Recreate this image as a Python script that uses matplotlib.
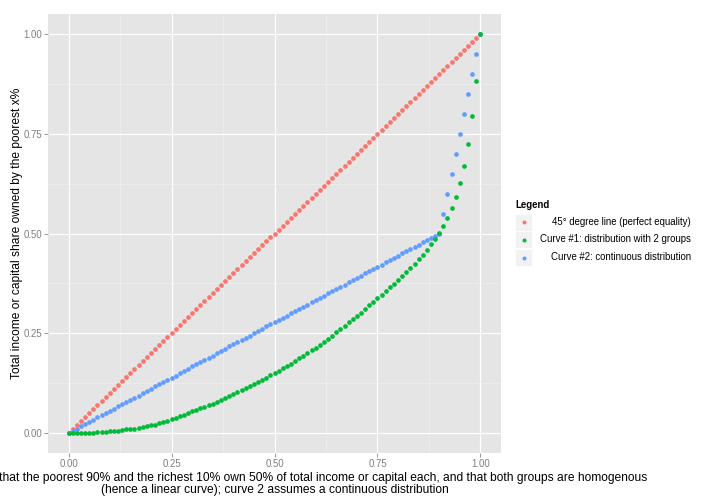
import matplotlib
matplotlib.use("Agg")
import matplotlib.pyplot as plt
from matplotlib.patches import Rectangle
from matplotlib.ticker import MultipleLocator, FormatStrFormatter

plt.rcParams['font.family'] = ['Liberation Sans', 'DejaVu Sans']

# poorest x% of the population
pop_share = [0.00, 0.01, 0.02, 0.03, 0.04, 0.05, 0.06, 0.07, 0.08, 0.09,
             0.10, 0.11, 0.12, 0.13, 0.14, 0.15, 0.16, 0.17, 0.18, 0.19,
             0.20, 0.21, 0.22, 0.23, 0.24, 0.25, 0.26, 0.27, 0.28, 0.29,
             0.30, 0.31, 0.32, 0.33, 0.34, 0.35, 0.36, 0.37, 0.38, 0.39,
             0.40, 0.41, 0.42, 0.43, 0.44, 0.45, 0.46, 0.47, 0.48, 0.49,
             0.50, 0.51, 0.52, 0.53, 0.54, 0.55, 0.56, 0.57, 0.58, 0.59,
             0.60, 0.61, 0.62, 0.63, 0.64, 0.65, 0.66, 0.67, 0.68, 0.69,
             0.70, 0.71, 0.72, 0.73, 0.74, 0.75, 0.76, 0.77, 0.78, 0.79,
             0.80, 0.81, 0.82, 0.83, 0.84, 0.85, 0.86, 0.87, 0.88, 0.89,
             0.90, 0.91, 0.92, 0.93, 0.94, 0.95, 0.96, 0.97, 0.98, 0.99,
             1.00]

# 45 degree line: share owned == share of population
line45 = list(pop_share)

# curve #1 (green)
curve1 = [0.000, 0.000, 0.000, 0.000, 0.001, 0.001, 0.001, 0.002, 0.002, 0.003,
          0.004, 0.005, 0.006, 0.008, 0.009, 0.010, 0.011, 0.013, 0.015, 0.017,
          0.019, 0.021, 0.024, 0.027, 0.030, 0.034, 0.038, 0.042, 0.046, 0.050,
          0.054, 0.058, 0.062, 0.066, 0.070, 0.074, 0.079, 0.083, 0.088, 0.093,
          0.098, 0.103, 0.108, 0.113, 0.118, 0.123, 0.128, 0.134, 0.139, 0.145,
          0.150, 0.156, 0.162, 0.168, 0.174, 0.180, 0.187, 0.193, 0.200, 0.207,
          0.214, 0.221, 0.229, 0.236, 0.244, 0.252, 0.260, 0.268, 0.277, 0.285,
          0.294, 0.302, 0.311, 0.320, 0.329, 0.338, 0.347, 0.356, 0.365, 0.374,
          0.383, 0.393, 0.404, 0.414, 0.424, 0.436, 0.447, 0.459, 0.473, 0.486,
          0.502, 0.520, 0.540, 0.565, 0.591, 0.627, 0.670, 0.724, 0.794, 0.883,
          1.000]

# curve #2 (blue)
curve2 = [0.000, 0.006, 0.011, 0.017, 0.022, 0.028, 0.033, 0.039, 0.044, 0.050,
          0.056, 0.061, 0.067, 0.072, 0.078, 0.083, 0.089, 0.094, 0.100, 0.106,
          0.111, 0.117, 0.122, 0.128, 0.133, 0.139, 0.144, 0.150, 0.156, 0.161,
          0.167, 0.172, 0.178, 0.183, 0.189, 0.194, 0.200, 0.206, 0.211, 0.217,
          0.222, 0.228, 0.233, 0.239, 0.244, 0.250, 0.256, 0.261, 0.267, 0.272,
          0.278, 0.283, 0.289, 0.294, 0.300, 0.306, 0.311, 0.317, 0.322, 0.328,
          0.333, 0.339, 0.344, 0.350, 0.356, 0.361, 0.367, 0.372, 0.378, 0.383,
          0.389, 0.394, 0.400, 0.406, 0.411, 0.417, 0.422, 0.428, 0.433, 0.439,
          0.444, 0.450, 0.456, 0.461, 0.467, 0.472, 0.478, 0.483, 0.489, 0.494,
          0.500, 0.550, 0.600, 0.650, 0.700, 0.750, 0.800, 0.850, 0.900, 0.950,
          1.000]

labels = ['45\u00b0 degree line (perfect equality)',
          'Curve #1: distribution with 2 groups',
          'Curve #2: continuous distribution']
colors = ['#F8766D', '#00BA38', '#619CFF']

fig = plt.figure(figsize=(10, 7), dpi=72)
ax = fig.add_axes([48 / 720, 51 / 504, 453 / 720, 439 / 504])
ax.set_facecolor('#E5E5E5')

# points
ax.scatter(pop_share, line45, s=22, color=colors[0], linewidths=0, zorder=3)
ax.scatter(pop_share, curve2, s=22, color=colors[2], linewidths=0, zorder=3)
ax.scatter(pop_share, curve1, s=22, color=colors[1], linewidths=0, zorder=3)

ax.set_xlim(-0.05, 1.05)
ax.set_ylim(-0.05, 1.05)
ax.xaxis.set_major_locator(MultipleLocator(0.25))
ax.yaxis.set_major_locator(MultipleLocator(0.25))
ax.xaxis.set_minor_locator(MultipleLocator(0.125))
ax.yaxis.set_minor_locator(MultipleLocator(0.125))
ax.xaxis.set_major_formatter(FormatStrFormatter('%.2f'))
ax.yaxis.set_major_formatter(FormatStrFormatter('%.2f'))

# ggplot style grid
ax.grid(which='major', color='white', linewidth=1.2, zorder=1)
ax.grid(which='minor', color='#F2F2F2', linewidth=0.6, zorder=1)
ax.set_axisbelow(True)
for sp in ax.spines.values():
    sp.set_visible(False)
ax.tick_params(which='major', length=4, width=0.8, color='#7F7F7F',
               labelcolor='#7F7F7F', labelsize=9.6, pad=2)
ax.tick_params(which='minor', length=0)

ax.set_ylabel('Total income or capital share owned by the poorest x%',
              fontsize=12, labelpad=0.5)
ax.set_xlabel('Curve 1 assumes that the poorest 90% and the richest 10% own 50% of total income or capital each, '
              'and that both groups are homogenous\n(hence a linear curve); curve 2 assumes a continuous distribution',
              fontsize=12, labelpad=3, linespacing=1.0)

# legend drawn by hand (right aligned labels like ggplot)
fig.text(515 / 720, 1 - 205 / 504, 'Legend', fontsize=9.6, fontweight='bold',
         ha='left', va='center')
key_y = [222, 239.5, 257.5]
for i in range(3):
    yc = 1 - key_y[i] / 504
    fig.patches.append(Rectangle((515 / 720, yc - 8.5 / 504), 17 / 720, 17 / 504,
                                 transform=fig.transFigure, facecolor='#F2F2F2',
                                 edgecolor='white', linewidth=0.8))
    fig.lines.append(plt.Line2D([523.5 / 720], [yc], transform=fig.transFigure,
                                marker='o', markersize=4, color=colors[i],
                                markeredgewidth=0, linestyle='none'))
    fig.text(691 / 720, yc, labels[i], fontsize=9.6, ha='right', va='center')

plt.savefig('out.png', dpi=72)
